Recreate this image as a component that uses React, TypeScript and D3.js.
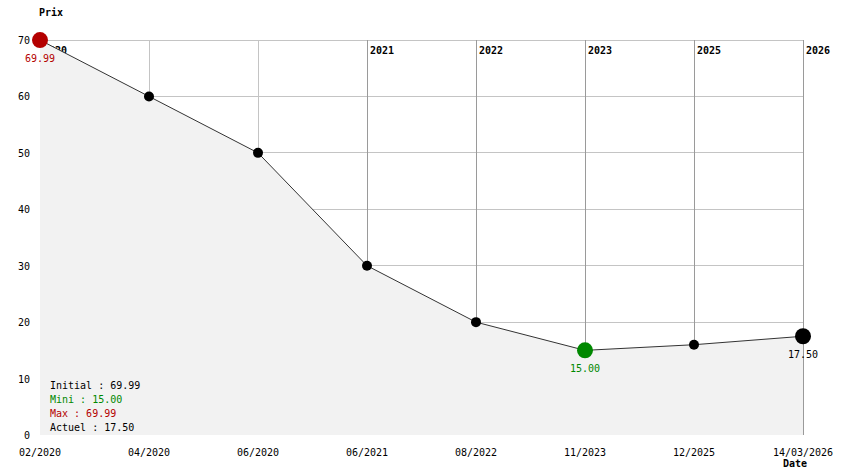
import React from "react";
import * as d3 from "d3";

const dates = ["02/2020", "04/2020", "06/2020", "06/2021", "08/2022", "11/2023", "12/2025", "14/03/2026"];
const prices = [69.99, 60, 50, 30, 20, 15, 16, 17.5];
const yearMarks = ["2020", "", "", "2021", "2022", "2023", "2025", "2026"];
const yTicks = [0, 10, 20, 30, 40, 50, 60, 70];
const legendLines = [
  { text: "Initial : 69.99", kind: "normal" },
  { text: "Mini : 15.00", kind: "min" },
  { text: "Max : 69.99", kind: "max" },
  { text: "Actuel : 17.50", kind: "normal" },
];

const W = 844;
const H = 474;
const FONT = "'DejaVu Sans Mono', 'Liberation Mono', monospace";
const RED = "#b40000";
const GREEN = "#008800";

export default function App() {
  const x = d3.scalePoint<number>().domain(d3.range(dates.length)).range([40, 803]);
  const y = d3.scaleLinear().domain([0, 70]).range([435, 40]);
  const xs = (i: number) => x(i) as number;

  const area = d3
    .area<number>()
    .x((_, i) => xs(i))
    .y0(y(0))
    .y1((d) => y(d));
  const line = d3
    .line<number>()
    .x((_, i) => xs(i))
    .y((d) => y(d));

  const minV = d3.min(prices) as number;
  const maxV = d3.max(prices) as number;
  const minI = prices.indexOf(minV);
  const maxI = prices.indexOf(maxV);
  const lastI = prices.length - 1;

  return (
    <svg width={W} height={H} style={{ position: "absolute", left: 0, top: 0, background: "#fff" }} fontFamily={FONT}>
      {yTicks.filter((t) => t > 0).map((t) => (
        <line key={"h" + t} x1={40} x2={804} y1={y(t)} y2={y(t)} stroke="#c4c4c4" strokeWidth={1} shapeRendering="crispEdges" />
      ))}
      {dates.map((_, i) => (
        <line
          key={"v" + i}
          x1={xs(i)}
          x2={xs(i)}
          y1={y(70)}
          y2={y(0)}
          stroke={yearMarks[i] ? "#9a9a9a" : "#c4c4c4"}
          strokeWidth={1}
          shapeRendering="crispEdges"
        />
      ))}
      {yearMarks.map((m, i) =>
        m ? (
          <text key={"yr" + i} x={xs(i) + 3} y={54} fontSize={10} fontWeight="bold" fill="#000">
            {m}
          </text>
        ) : null
      )}
      <path d={area(prices) as string} fill="#f2f2f2" />
      <path d={line(prices) as string} fill="none" stroke="#333" strokeWidth={1} />
      {yTicks.map((t) => (
        <text key={"yt" + t} x={30} y={y(t) + 4} fontSize={10} textAnchor="end" fill="#000">
          {t}
        </text>
      ))}
      {dates.map((d, i) => (
        <text key={"xt" + i} x={xs(i)} y={456} fontSize={10} textAnchor="middle" fill="#000">
          {d}
        </text>
      ))}
      <text x={39} y={16} fontSize={10} fontWeight="bold">Prix</text>
      <text x={783} y={467} fontSize={10} fontWeight="bold">Date</text>
      {prices.map((p, i) => {
        let r = 5;
        let fill = "#000";
        if (i === maxI) { r = 8; fill = RED; }
        else if (i === minI) { r = 8; fill = GREEN; }
        else if (i === lastI) { r = 8; fill = "#000"; }
        return <circle key={"p" + i} cx={xs(i)} cy={y(p)} r={r} fill={fill} />;
      })}
      <text x={xs(maxI)} y={y(maxV) + 22} fontSize={10} textAnchor="middle" fill={RED}>
        {maxV.toFixed(2)}
      </text>
      <text x={xs(minI)} y={y(minV) + 22} fontSize={10} textAnchor="middle" fill={GREEN}>
        {minV.toFixed(2)}
      </text>
      <text x={xs(lastI)} y={y(prices[lastI]) + 22} fontSize={10} textAnchor="middle" fill="#000">
        {prices[lastI].toFixed(2)}
      </text>
      {legendLines.map((l, i) => (
        <text
          key={"lg" + i}
          x={50}
          y={389 + i * 14}
          fontSize={10}
          fill={l.kind === "min" ? GREEN : l.kind === "max" ? RED : "#000"}
        >
          {l.text}
        </text>
      ))}
    </svg>
  );
}
